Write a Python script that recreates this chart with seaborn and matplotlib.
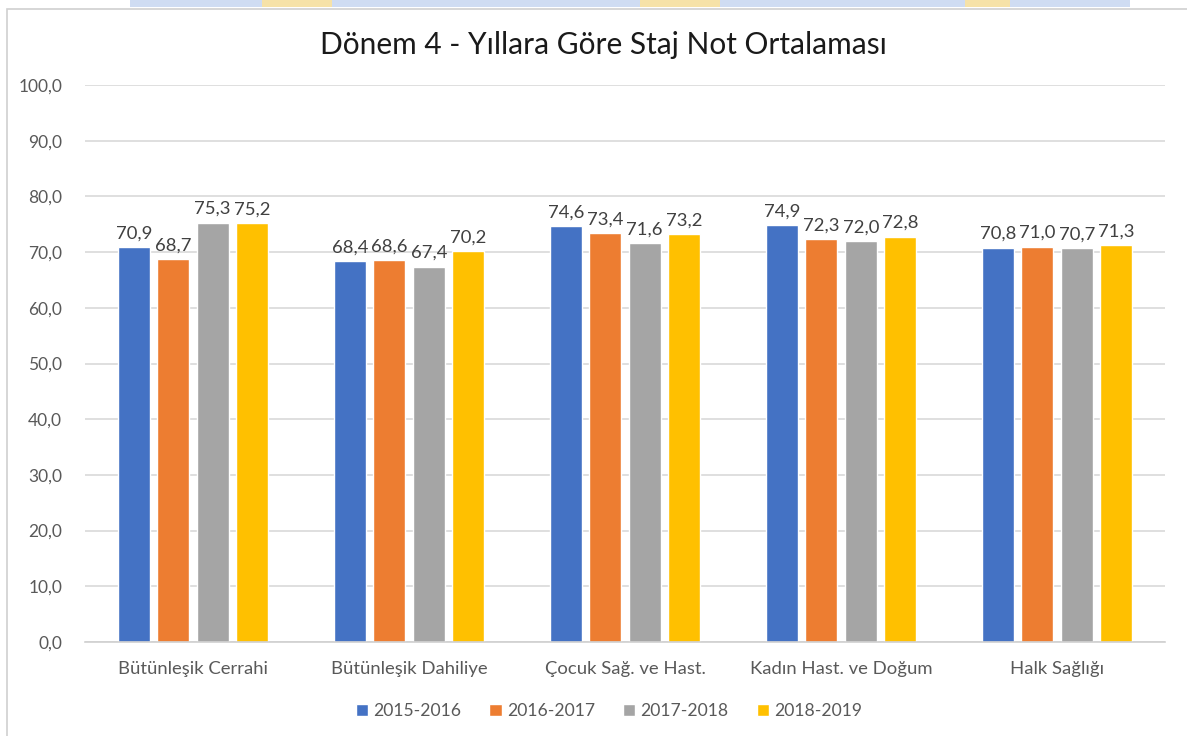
import matplotlib
matplotlib.use("Agg")
import matplotlib.pyplot as plt
from matplotlib.patches import Rectangle
from matplotlib.ticker import FuncFormatter
import pandas as pd
import seaborn as sns

# Internship (staj) rotations and the mean grade per academic year
categories = ["Bütünleşik Cerrahi", "Bütünleşik Dahiliye", "Çocuk Sağ. ve Hast.",
              "Kadın Hast. ve Doğum", "Halk Sağlığı"]
years = ["2015-2016", "2016-2017", "2017-2018", "2018-2019"]
y2015_2016 = [70.9, 68.4, 74.6, 74.9, 70.8]
y2016_2017 = [68.7, 68.6, 73.4, 72.3, 71.0]
y2017_2018 = [75.3, 67.4, 71.6, 72.0, 70.7]
y2018_2019 = [75.2, 70.2, 73.2, 72.8, 71.3]
y_ticks = [0, 10, 20, 30, 40, 50, 60, 70, 80, 90, 100]

series = [y2015_2016, y2016_2017, y2017_2018, y2018_2019]
df = pd.DataFrame(
    [(cat, yr, vals[i]) for yr, vals in zip(years, series) for i, cat in enumerate(categories)],
    columns=["Staj", "Yıl", "Ortalama"],
)

palette = ["#4472C4", "#ED7D31", "#A5A5A5", "#FFC000"]

sns.set_theme(style="white")
plt.rcParams["font.family"] = ["Lato", "DejaVu Sans"]

W, H = 1187, 736
fig = plt.figure(figsize=(W / 100, H / 100), dpi=100)
fig.patch.set_facecolor("white")

# faint banner strip along the top edge
fig.patches.append(Rectangle((130 / W, 1 - 7 / H), 1000 / W, 7 / H, transform=fig.transFigure,
                             facecolor="#CFDCF2", edgecolor="none", zorder=0))
for x0, w in [(262, 70), (640, 80), (965, 45)]:
    fig.patches.append(Rectangle((x0 / W, 1 - 7 / H), w / W, 7 / H, transform=fig.transFigure,
                                 facecolor="#F6E2A8", edgecolor="none", zorder=0))

# thin chart frame
fig.patches.append(Rectangle((7 / W, -0.05), 1.2, 1 - 9 / H + 0.05, transform=fig.transFigure,
                             fill=False, edgecolor="#D0D0D0", linewidth=1.2, zorder=0))

ax = fig.add_axes([85 / W, (H - 642) / H, (1165 - 85) / W, (642 - 85) / H])
sns.barplot(data=df, x="Staj", y="Ortalama", hue="Yıl", palette=palette,
            width=0.73, gap=0.19, ax=ax, legend=False, saturation=1)

ax.set_ylim(0, 100)
ax.set_yticks(y_ticks)
ax.yaxis.set_major_formatter(FuncFormatter(lambda v, p: f"{v:.1f}".replace(".", ",")))
ax.yaxis.grid(True, color="#D9D9D9", linewidth=1.2)
ax.set_axisbelow(True)
for s in ["top", "right", "left"]:
    ax.spines[s].set_visible(False)
ax.spines["bottom"].set_color("#D0D0D0")
ax.spines["bottom"].set_linewidth(1.2)
ax.tick_params(axis="y", length=0, pad=16.5, labelsize=12.5, labelcolor="#595959")
ax.tick_params(axis="x", length=0, pad=14, labelsize=13.3, labelcolor="#595959")
ax.set_xlabel("")
ax.set_ylabel("")

for cont in ax.containers:
    ax.bar_label(cont, fmt=lambda v: f"{v:.1f}".replace(".", ","), padding=4,
                 fontsize=13.3, color="#404040")

fig.text(603 / W, 1 - 45 / H, "Dönem 4 - Yıllara Göre Staj Not Ortalaması",
         ha="center", va="center", fontsize=21.5, color="#1A1A1A")

handles = [Rectangle((0, 0), 1, 1, facecolor=c) for c in palette]
fig.legend(handles, years, loc="center", bbox_to_anchor=(609 / W, 1 - 711 / H), ncol=4,
           frameon=False, fontsize=12.6, labelcolor="#595959", handlelength=0.7,
           handleheight=0.7, handletextpad=0.3, columnspacing=1.6)

fig.savefig("out.png", dpi=100, facecolor="white")
